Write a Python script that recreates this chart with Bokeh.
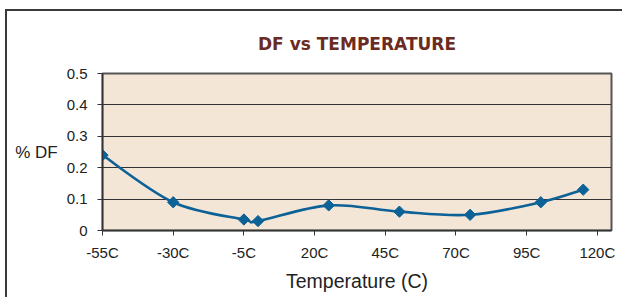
import math
from bokeh.plotting import figure
from bokeh.models import Range1d, FixedTicker
from bokeh.embed import file_html
from bokeh.resources import INLINE

# ---- data ----
temps = [-55, -30, -5, 0, 25, 50, 75, 100, 115]
df_pct = [0.24, 0.09, 0.035, 0.03, 0.08, 0.06, 0.05, 0.09, 0.13]
x_ticks = [-55, -30, -5, 20, 45, 70, 95, 120]
x_tick_labels = ["-55C", "-30C", "-5C", "20C", "45C", "70C", "95C", "120C"]
y_ticks = [0, 0.1, 0.2, 0.3, 0.4, 0.5]
y_tick_labels = ["0", "0.1", "0.2", "0.3", "0.4", "0.5"]
title_text = "DF vs TEMPERATURE"
x_title = "Temperature (C)"
y_title = "% DF"

# ---- layout ----
W, H = 622, 297
X0, X1 = -55, 125
Y0, Y1 = 0, 0.5

p = figure(width=W, height=H, output_backend="svg", toolbar_location=None,
           x_range=Range1d(X0, X1), y_range=Range1d(Y0, Y1),
           min_border_left=102, min_border_right=11,
           min_border_top=73, min_border_bottom=67)
# outer box line (left/top) painted behind a transparent canvas border
p.styles = {"box-shadow": "inset 5px 9px 0 0 #ffffff, inset 7px 11px 0 0 #3a3a3a",
            "background-color": "#ffffff"}

p.background_fill_color = "#f3e6d7"
p.border_fill_alpha = 0
p.outline_line_color = "#555555"
p.outline_line_width = 2

p.title.text = title_text
p.title.align = "center"
p.title.text_font = "DejaVu Sans"
p.title.text_font_style = "bold"
p.title.text_font_size = "17px"
p.title.text_color = "#6b2b22"
p.title.standoff = 40

# grid
p.xgrid.visible = False
p.ygrid.grid_line_color = "#333333"
p.ygrid.grid_line_width = 1
p.ygrid.ticker = FixedTicker(ticks=y_ticks)

# axes
p.xaxis.ticker = FixedTicker(ticks=x_ticks)
p.xaxis.major_label_overrides = {t: l for t, l in zip(x_ticks, x_tick_labels)}
p.yaxis.ticker = FixedTicker(ticks=y_ticks)
p.yaxis.major_label_overrides = {t: l for t, l in zip(y_ticks, y_tick_labels)}
for ax in (p.xaxis, p.yaxis):
    ax.axis_line_color = "#333333"
    ax.axis_line_width = 1.5
    ax.major_tick_line_color = "#333333"
    ax.major_tick_in = 0
    ax.major_tick_out = 5
    ax.minor_tick_line_color = None
    ax.major_label_text_font = "Liberation Sans"
    ax.major_label_text_font_size = "15px"
    ax.major_label_text_color = "#222222"
    ax.axis_label_text_font = "Liberation Sans"
    ax.axis_label_text_font_style = "normal"
    ax.axis_label_text_color = "#222222"
p.xaxis.major_label_standoff = 8
p.yaxis.major_label_standoff = 10

p.xaxis.axis_label = x_title
p.xaxis.axis_label_text_font_size = "19.5px"
p.xaxis.axis_label_standoff = 6
p.yaxis.axis_label = y_title
p.yaxis.axis_label_text_font_size = "17px"
p.yaxis.axis_label_orientation = "horizontal"
p.yaxis.axis_label_standoff = 6

# smoothed line (Catmull-Rom style Bezier through the data points)
n = len(temps)
bx0, by0, bx1, by1, c0x, c0y, c1x, c1y = [], [], [], [], [], [], [], []
for i in range(n - 1):
    pm = max(i - 1, 0)
    pp = min(i + 2, n - 1)
    bx0.append(temps[i]); by0.append(df_pct[i])
    bx1.append(temps[i + 1]); by1.append(df_pct[i + 1])
    c0x.append(temps[i] + (temps[i + 1] - temps[pm]) / 6.0)
    c0y.append(df_pct[i] + (df_pct[i + 1] - df_pct[pm]) / 6.0)
    c1x.append(temps[i + 1] - (temps[pp] - temps[i]) / 6.0)
    c1y.append(df_pct[i + 1] - (df_pct[pp] - df_pct[i]) / 6.0)
p.bezier(x0=bx0, y0=by0, x1=bx1, y1=by1, cx0=c0x, cy0=c0y, cx1=c1x, cy1=c1y,
         line_color="#0c6196", line_width=2.6)
p.scatter(temps, df_pct, marker="square", angle=math.pi / 4, size=8,
          fill_color="#0c6196", line_color="#0c6196", line_width=1)

open("out.html", "w").write(file_html(p, INLINE))
